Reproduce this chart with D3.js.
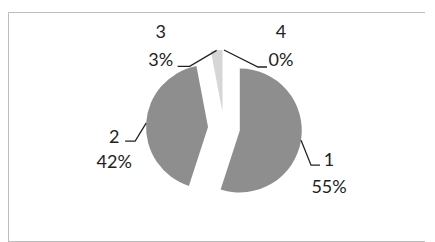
<!DOCTYPE html>
<html>
<head>
<meta charset="utf-8">
<script src="https://cdn.jsdelivr.net/npm/d3@7"></script>
<style>
    body { margin: 0; background: #fff; }
    text { font-family: Lato, "Open Sans", sans-serif; font-size: 18px; fill: #222; }
</style>
</head>
<body>
<div id="chart"></div>
<script>
// Data
const categories = ["1", "2", "3", "4"];
const shares = [55, 42, 3, 0];
const percentLabels = ["55%", "42%", "3%", "0%"];

// Slice fills (grey scan)
const sliceColors = ["#8e8e8e", "#8e8e8e", "#d6d6d6", "#d6d6d6"];

// Label layout, offsets from the point on the outer arc
const labelLayout = [
    { elbow: [10, 25], end: [19, 25], text: [28, 26, 53] },
    { elbow: [-11, 18], end: [-21, 18], text: [-32, 20, 45] },
    { elbow: [-27, 16], end: [-39, 16], text: [-56, -12, 16] },
    { elbow: [34, 17], end: [43, 17], text: [57, -12, 16] }
];

const width = 435, height = 242;
const cx = 224, cy = 128, radius = 62, explode = 16;

const svg = d3.select("#chart").append("svg")
    .attr("width", width)
    .attr("height", height);

// chart frame (top, left, bottom edges visible in the scan)
svg.append("path")
    .attr("d", "M425,12.5 H8.5 V242 M8.5,241.5 H425")
    .attr("fill", "none")
    .attr("stroke", "#bdbdbd")
    .attr("stroke-width", 1);

const pie = d3.pie().sort(null).value(d => d.value).startAngle(0).endAngle(2 * Math.PI);
const arc = d3.arc().innerRadius(0).outerRadius(radius);

const data = categories.map((c, i) => ({ name: c, value: shares[i], pct: percentLabels[i], i }));
const arcs = pie(data);

// offset of each slice along its bisector
function shift(d) {
    const a = (d.startAngle + d.endAngle) / 2;
    return [explode * Math.sin(a), -explode * Math.cos(a)];
}

const g = svg.append("g").attr("transform", `translate(${cx},${cy})`);

g.selectAll(".slice")
    .data(arcs)
    .enter()
    .append("path")
    .attr("class", "slice")
    .attr("d", arc)
    .attr("fill", d => sliceColors[d.index])
    .attr("transform", d => `translate(${shift(d)})`);

// leader lines and labels
arcs.forEach(d => {
    const a = (d.startAngle + d.endAngle) / 2;
    const [sx, sy] = shift(d);
    const px = sx + radius * Math.sin(a);
    const py = sy - radius * Math.cos(a);
    const L = labelLayout[d.index];

    g.append("polyline")
        .attr("points", [[px, py], [px + L.elbow[0], py + L.elbow[1]], [px + L.end[0], py + L.end[1]]].join(" "))
        .attr("fill", "none")
        .attr("stroke", "#222")
        .attr("stroke-width", 1.3);

    const t = g.append("text")
        .attr("text-anchor", "middle");
    t.append("tspan")
        .attr("x", px + L.text[0])
        .attr("y", py + L.text[1])
        .text(d.data.name);
    t.append("tspan")
        .attr("x", px + L.text[0])
        .attr("y", py + L.text[2])
        .text(d.data.pct);
});
</script>
</body>
</html>
